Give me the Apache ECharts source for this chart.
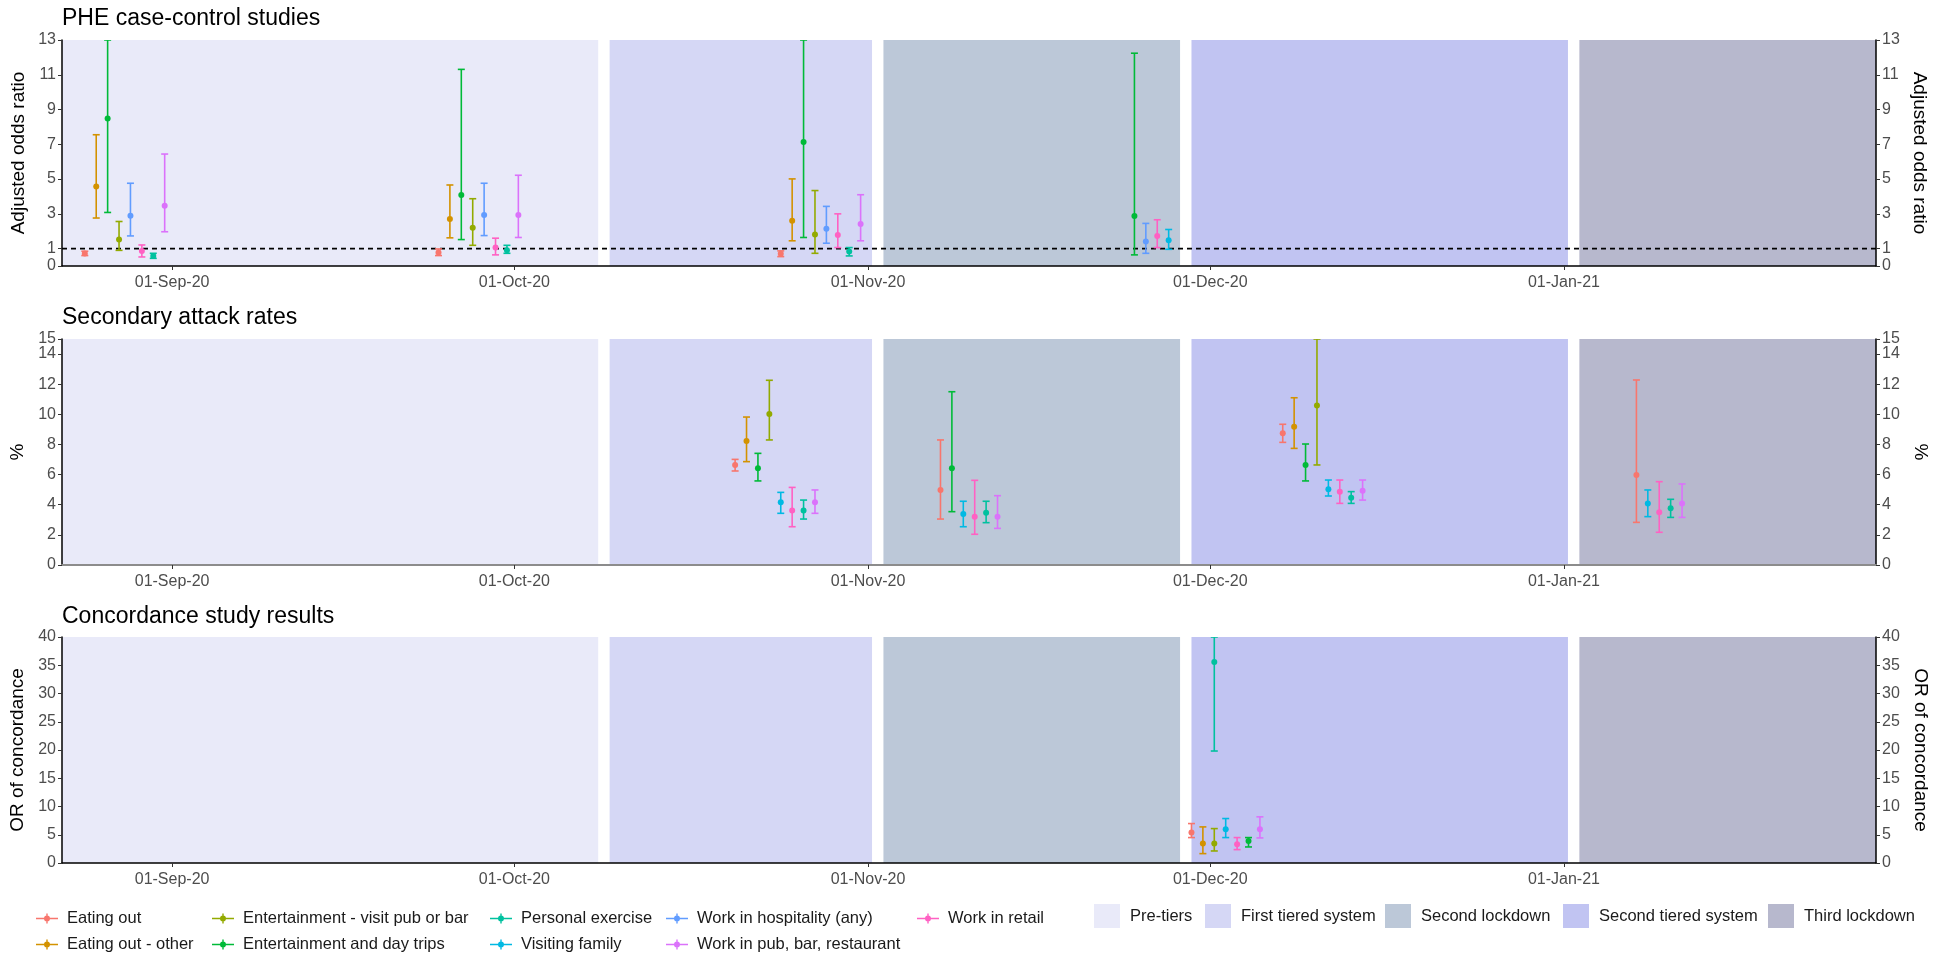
<!DOCTYPE html>
<html>
<head>
<meta charset="utf-8">
<script src="https://cdn.jsdelivr.net/npm/echarts@6/dist/echarts.min.js"></script>
<style>
html,body{margin:0;padding:0;background:#fff;}
#chart{width:1941px;height:956px;}
</style>
</head>
<body>
<div id="chart"></div>
<script>
// ---------- DATA ----------
const activities = ['Eating out','Eating out - other','Entertainment - visit pub or bar','Entertainment and day trips','Personal exercise','Visiting family','Work in hospitality (any)','Work in pub, bar, restaurant','Work in retail'];
const activityColors = ['#F8766D','#D39200','#93AA00','#00BA38','#00C19F','#00B9E3','#619CFF','#DB72FB','#FF61C3'];

const periods = ['Pre-tiers','First tiered system','Second lockdown','Second tiered system','Third lockdown'];
const periodStart = ['2020-08-22','2020-10-09','2020-11-02','2020-11-29','2021-01-02'];
const periodEnd   = ['2020-10-08','2020-11-01','2020-11-28','2021-01-01','2021-01-28'];
const periodColors = ['#E9EAF9','#D5D7F5','#BCC8D8','#C1C4F2','#B7B8CD'];

const xMin = '2020-08-22';
const xMax = '2021-01-28';
const monthTicks = ['2020-09-01','2020-10-01','2020-11-01','2020-12-01','2021-01-01'];

const panelTitles = ['PHE case-control studies','Secondary attack rates','Concordance study results'];
const panelYNames = ['Adjusted odds ratio','%','OR of concordance'];
const panelYMax = [13, 15, 40];
const panelYTicks = [[0,1,3,5,7,9,11,13],[0,2,4,6,8,10,12,14,15],[0,5,10,15,20,25,30,35,40]];
const referenceLine = 1;

// Panel 1: PHE case-control studies (adjusted odds ratio)
const pheActivity = [0,1,3,2,6,8,4,7, 0,1,3,2,6,8,4,7, 0,1,3,2,6,8,4,7, 3,6,8,5];
const pheDate = ['2020-08-24','2020-08-25','2020-08-26','2020-08-27','2020-08-28','2020-08-29','2020-08-30','2020-08-31',
                 '2020-09-24','2020-09-25','2020-09-26','2020-09-27','2020-09-28','2020-09-29','2020-09-30','2020-10-01',
                 '2020-10-24','2020-10-25','2020-10-26','2020-10-27','2020-10-28','2020-10-29','2020-10-30','2020-10-31',
                 '2020-11-24','2020-11-25','2020-11-26','2020-11-27'];
const pheEst = [0.72,4.57,8.48,1.52,2.89,0.87,0.58,3.47, 0.78,2.70,4.08,2.20,2.93,1.06,0.91,2.93, 0.71,2.60,7.13,1.81,2.14,1.79,0.83,2.41, 2.87,1.41,1.73,1.48];
const pheLo  = [0.60,2.76,3.08,0.90,1.73,0.52,0.44,1.97, 0.60,1.62,1.52,1.19,1.75,0.64,0.73,1.64, 0.54,1.45,1.64,0.73,1.31,1.06,0.58,1.45, 0.64,0.73,1.06,0.96];
const pheHi  = [0.85,7.55,13.0,2.56,4.76,1.21,0.73,6.44, 0.98,4.66,11.31,3.87,4.76,1.60,1.19,5.22, 0.87,5.01,13.0,4.34,3.43,3.00,1.06,4.10, 12.24,2.45,2.66,2.10];

// Panel 2: Secondary attack rates (%)
const sarActivity = [0,1,3,2,5,8,4,7, 0,3,5,8,4,7, 0,1,3,2,5,8,4,7, 0,5,8,4,7];
const sarDate = ['2020-10-20','2020-10-21','2020-10-22','2020-10-23','2020-10-24','2020-10-25','2020-10-26','2020-10-27',
                 '2020-11-07','2020-11-08','2020-11-09','2020-11-10','2020-11-11','2020-11-12',
                 '2020-12-07','2020-12-08','2020-12-09','2020-12-10','2020-12-11','2020-12-12','2020-12-13','2020-12-14',
                 '2021-01-07','2021-01-08','2021-01-09','2021-01-10','2021-01-11'];
const sarEst = [6.64,8.23,6.42,10.02,4.16,3.61,3.61,4.16, 4.98,6.42,3.38,3.21,3.47,3.21, 8.74,9.18,6.64,10.58,5.02,4.87,4.47,4.93, 5.97,4.09,3.50,3.76,4.09];
const sarLo  = [6.24,6.86,5.58,8.30,3.43,2.54,3.05,3.43, 3.05,3.54,2.54,2.04,2.81,2.43, 8.14,7.74,5.58,6.64,4.58,4.09,4.09,4.31, 2.83,3.21,2.17,3.16,3.16];
const sarHi  = [7.01,9.82,7.41,12.26,4.82,5.15,4.31,4.98, 8.30,11.50,4.23,5.62,4.23,4.60, 9.34,11.10,8.03,15.0,5.64,5.64,4.87,5.64, 12.28,4.98,5.53,4.36,5.38];

// Panel 3: Concordance study (OR of concordance)
const conActivity = [0,1,2,4,5,8,3,7];
const conDate = ['2020-11-29','2020-11-30','2020-12-01','2020-12-01','2020-12-02','2020-12-03','2020-12-04','2020-12-05'];
const conEst = [5.38,3.43,3.43,35.56,5.98,3.31,3.90,5.98];
const conLo  = [4.50,1.66,2.13,19.82,4.50,2.37,2.84,4.44];
const conHi  = [6.98,6.39,6.09,40.0,7.87,4.50,4.50,8.17];

// ---------- BUILD ----------
const DAY = 864e5;
const EPOCH = Date.UTC(2020, 8, 1);
const markShift = 0.35; // dodged marks / period bounds sit a little after the date tick
function dn(s){ const p=s.split('-').map(Number); return (Date.UTC(p[0],p[1]-1,p[2]) - EPOCH)/DAY; }
function mx(s){ return dn(s) + markShift; }
const MON=['Jan','Feb','Mar','Apr','May','Jun','Jul','Aug','Sep','Oct','Nov','Dec'];
function fmtDate(v){ const d=new Date(EPOCH + Math.round(v)*DAY); return String(d.getUTCDate()).padStart(2,'0')+'-'+MON[d.getUTCMonth()]+'-'+String(d.getUTCFullYear()).slice(2); }

const panels = [
  {act:pheActivity, date:pheDate, est:pheEst, lo:pheLo, hi:pheHi},
  {act:sarActivity, date:sarDate, est:sarEst, lo:sarLo, hi:sarHi},
  {act:conActivity, date:conDate, est:conEst, lo:conLo, hi:conHi}
];

const FONT = '"Liberation Sans", Arial, sans-serif';
const gridTops = [40, 339, 637];
const gridH = 226;
const gridLeft = 62, gridRight = 65;

const grids = gridTops.map(t => ({left:gridLeft, right:gridRight, top:t, height:gridH, containLabel:false}));
const monthDn = monthTicks.map(dn);

const xAxes = gridTops.map((t,i) => ({
  type:'value', gridIndex:i, min:mx(xMin), max:mx(xMax), z:10,
  axisLine:{show:true, onZero:false, lineStyle:{color: i===1 ? '#8c8c8c' : '#000', width: i===1 ? 2 : 1.5}},
  axisTick:{show:true, length:4, lineStyle:{color:'#333'}, customValues:monthDn},
  axisLabel:{customValues:monthDn, formatter:fmtDate, color:'#4D4D4D', fontSize:16, fontFamily:FONT, margin:9, hideOverlap:false},
  splitLine:{show:false}
}));

// y axes: ticks are split over two stacked axes per side (alternate ticks), so that
// closely spaced labels (e.g. 14 and 15) are both kept, as in the original.
const yAxes = [];
gridTops.forEach((t,i) => {
  const tickSets = [panelYTicks[i].filter((v,j)=>j%2===0), panelYTicks[i].filter((v,j)=>j%2===1)];
  [0,1].forEach(side => {
    tickSets.forEach((ticks,part) => {
      yAxes.push({
        type:'value', gridIndex:i, min:0, max:panelYMax[i], position: side===0 ? 'left':'right', z:10,
        name: part===0 ? panelYNames[i] : '', nameLocation:'middle', nameGap: side===0 ? 26 : 22, nameRotate: side===0 ? 90 : -90,
        nameTextStyle:{color:'#000', fontSize:19, fontFamily:FONT},
        axisLine:{show: part===0, onZero:false, lineStyle:{color:'#000', width:1.5}},
        axisTick:{show:true, length:4, lineStyle:{color:'#333'}, customValues:ticks},
        axisLabel:{customValues:ticks, color:'#4D4D4D', fontSize:16, fontFamily:FONT, margin:6,
                   showMinLabel:true, showMaxLabel:true, hideOverlap:false},
        splitLine:{show:false}
      });
    });
  });
});
function yIdx(i){ return 4*i; }

const series = [];

// period background rectangles
function renderPeriod(params, api){
  const cs = params.coordSys;
  let x1 = api.coord([api.value(0), 0])[0];
  let x2 = api.coord([api.value(1), 0])[0];
  x1 = Math.max(cs.x, x1); x2 = Math.min(cs.x + cs.width, x2);
  return {type:'rect', shape:{x:x1, y:cs.y, width:x2-x1, height:cs.height}, style:{fill:api.visual('color')}};
}
gridTops.forEach((t,i) => {
  periods.forEach((p,k) => {
    series.push({
      type:'custom', name:p, xAxisIndex:i, yAxisIndex:yIdx(i), z:1, silent:true,
      itemStyle:{color:periodColors[k]},
      renderItem:renderPeriod,
      encode:{x:[0,1]},
      data:[[mx(periodStart[k]), mx(periodEnd[k])]]
    });
  });
});

// reference line at 1 in panel 1
series.push({
  type:'line', name:'ref', xAxisIndex:0, yAxisIndex:yIdx(0), z:2, silent:true, showSymbol:false,
  lineStyle:{color:'#000', width:1.8, type:[5,4]},
  data:[[mx(xMin), referenceLine],[mx(xMax), referenceLine]]
});

// error bars
function renderErr(params, api){
  const x = api.value(0);
  const pE = api.coord([x, api.value(1)]);
  const pL = api.coord([x, api.value(2)]);
  const pH = api.coord([x, api.value(3)]);
  const c = api.visual('color');
  const hw = 3.5;
  return {type:'group', children:[
    {type:'line', shape:{x1:pL[0], y1:pL[1], x2:pH[0], y2:pH[1]}, style:{stroke:c, lineWidth:1.6}},
    {type:'line', shape:{x1:pL[0]-hw, y1:pL[1], x2:pL[0]+hw, y2:pL[1]}, style:{stroke:c, lineWidth:1.6}},
    {type:'line', shape:{x1:pH[0]-hw, y1:pH[1], x2:pH[0]+hw, y2:pH[1]}, style:{stroke:c, lineWidth:1.6}},
    {type:'circle', shape:{cx:pE[0], cy:pE[1], r:3}, style:{fill:c}}
  ]};
}
panels.forEach((pn,i) => {
  activities.forEach((a,k) => {
    const data = [];
    pn.act.forEach((ak,j) => { if (ak===k) data.push([mx(pn.date[j]), pn.est[j], pn.lo[j], pn.hi[j]]); });
    if (!data.length) return;
    series.push({
      type:'custom', name:a, xAxisIndex:i, yAxisIndex:yIdx(i), z:3, clip:true,
      itemStyle:{color:activityColors[k]},
      renderItem:renderErr,
      encode:{x:0, y:[1,2,3]},
      data:data
    });
  });
});

// legends
const plusIcon = 'path://M0,5.3H22V6.7H0Z M10.3,1H11.7V11H10.3Z M11,3A3,3 0 1 1 10.99,3Z';
const actCols = [[0,1],[2,3],[4,5],[6,7],[8]];
const actLeft = [36, 212, 490, 666, 917];
const legends = [];
actCols.forEach((col,ci) => {
  legends.push({
    orient:'vertical', left:actLeft[ci], top:910, itemGap:9, itemWidth:22, itemHeight:12,
    selectedMode:false, padding:0,
    textStyle:{fontSize:16.5, color:'#1a1a1a', fontFamily:FONT, padding:[0,0,0,4]},
    data: col.map(k => ({name:activities[k], icon:plusIcon}))
  });
});
const perLeft = [1094, 1205, 1385, 1563, 1768];
periods.forEach((p,k) => {
  legends.push({
    orient:'horizontal', left:perLeft[k], top:904, itemWidth:26, itemHeight:24,
    selectedMode:false, padding:0,
    textStyle:{fontSize:16.5, color:'#1a1a1a', fontFamily:FONT, padding:[0,0,0,5]},
    data:[{name:p, icon:'rect'}]
  });
});

const titles = panelTitles.map((t,i) => ({
  text:t, left:57, top:[2, 301, 600][i],
  textStyle:{fontSize:23, fontWeight:'normal', color:'#000', fontFamily:FONT}
}));

const chart = echarts.init(document.getElementById('chart'), null, {renderer:'canvas'});
chart.setOption({
  animation:false,
  backgroundColor:'#fff',
  title:titles,
  grid:grids,
  xAxis:xAxes,
  yAxis:yAxes,
  legend:legends,
  series:series
});
</script>
</body>
</html>
